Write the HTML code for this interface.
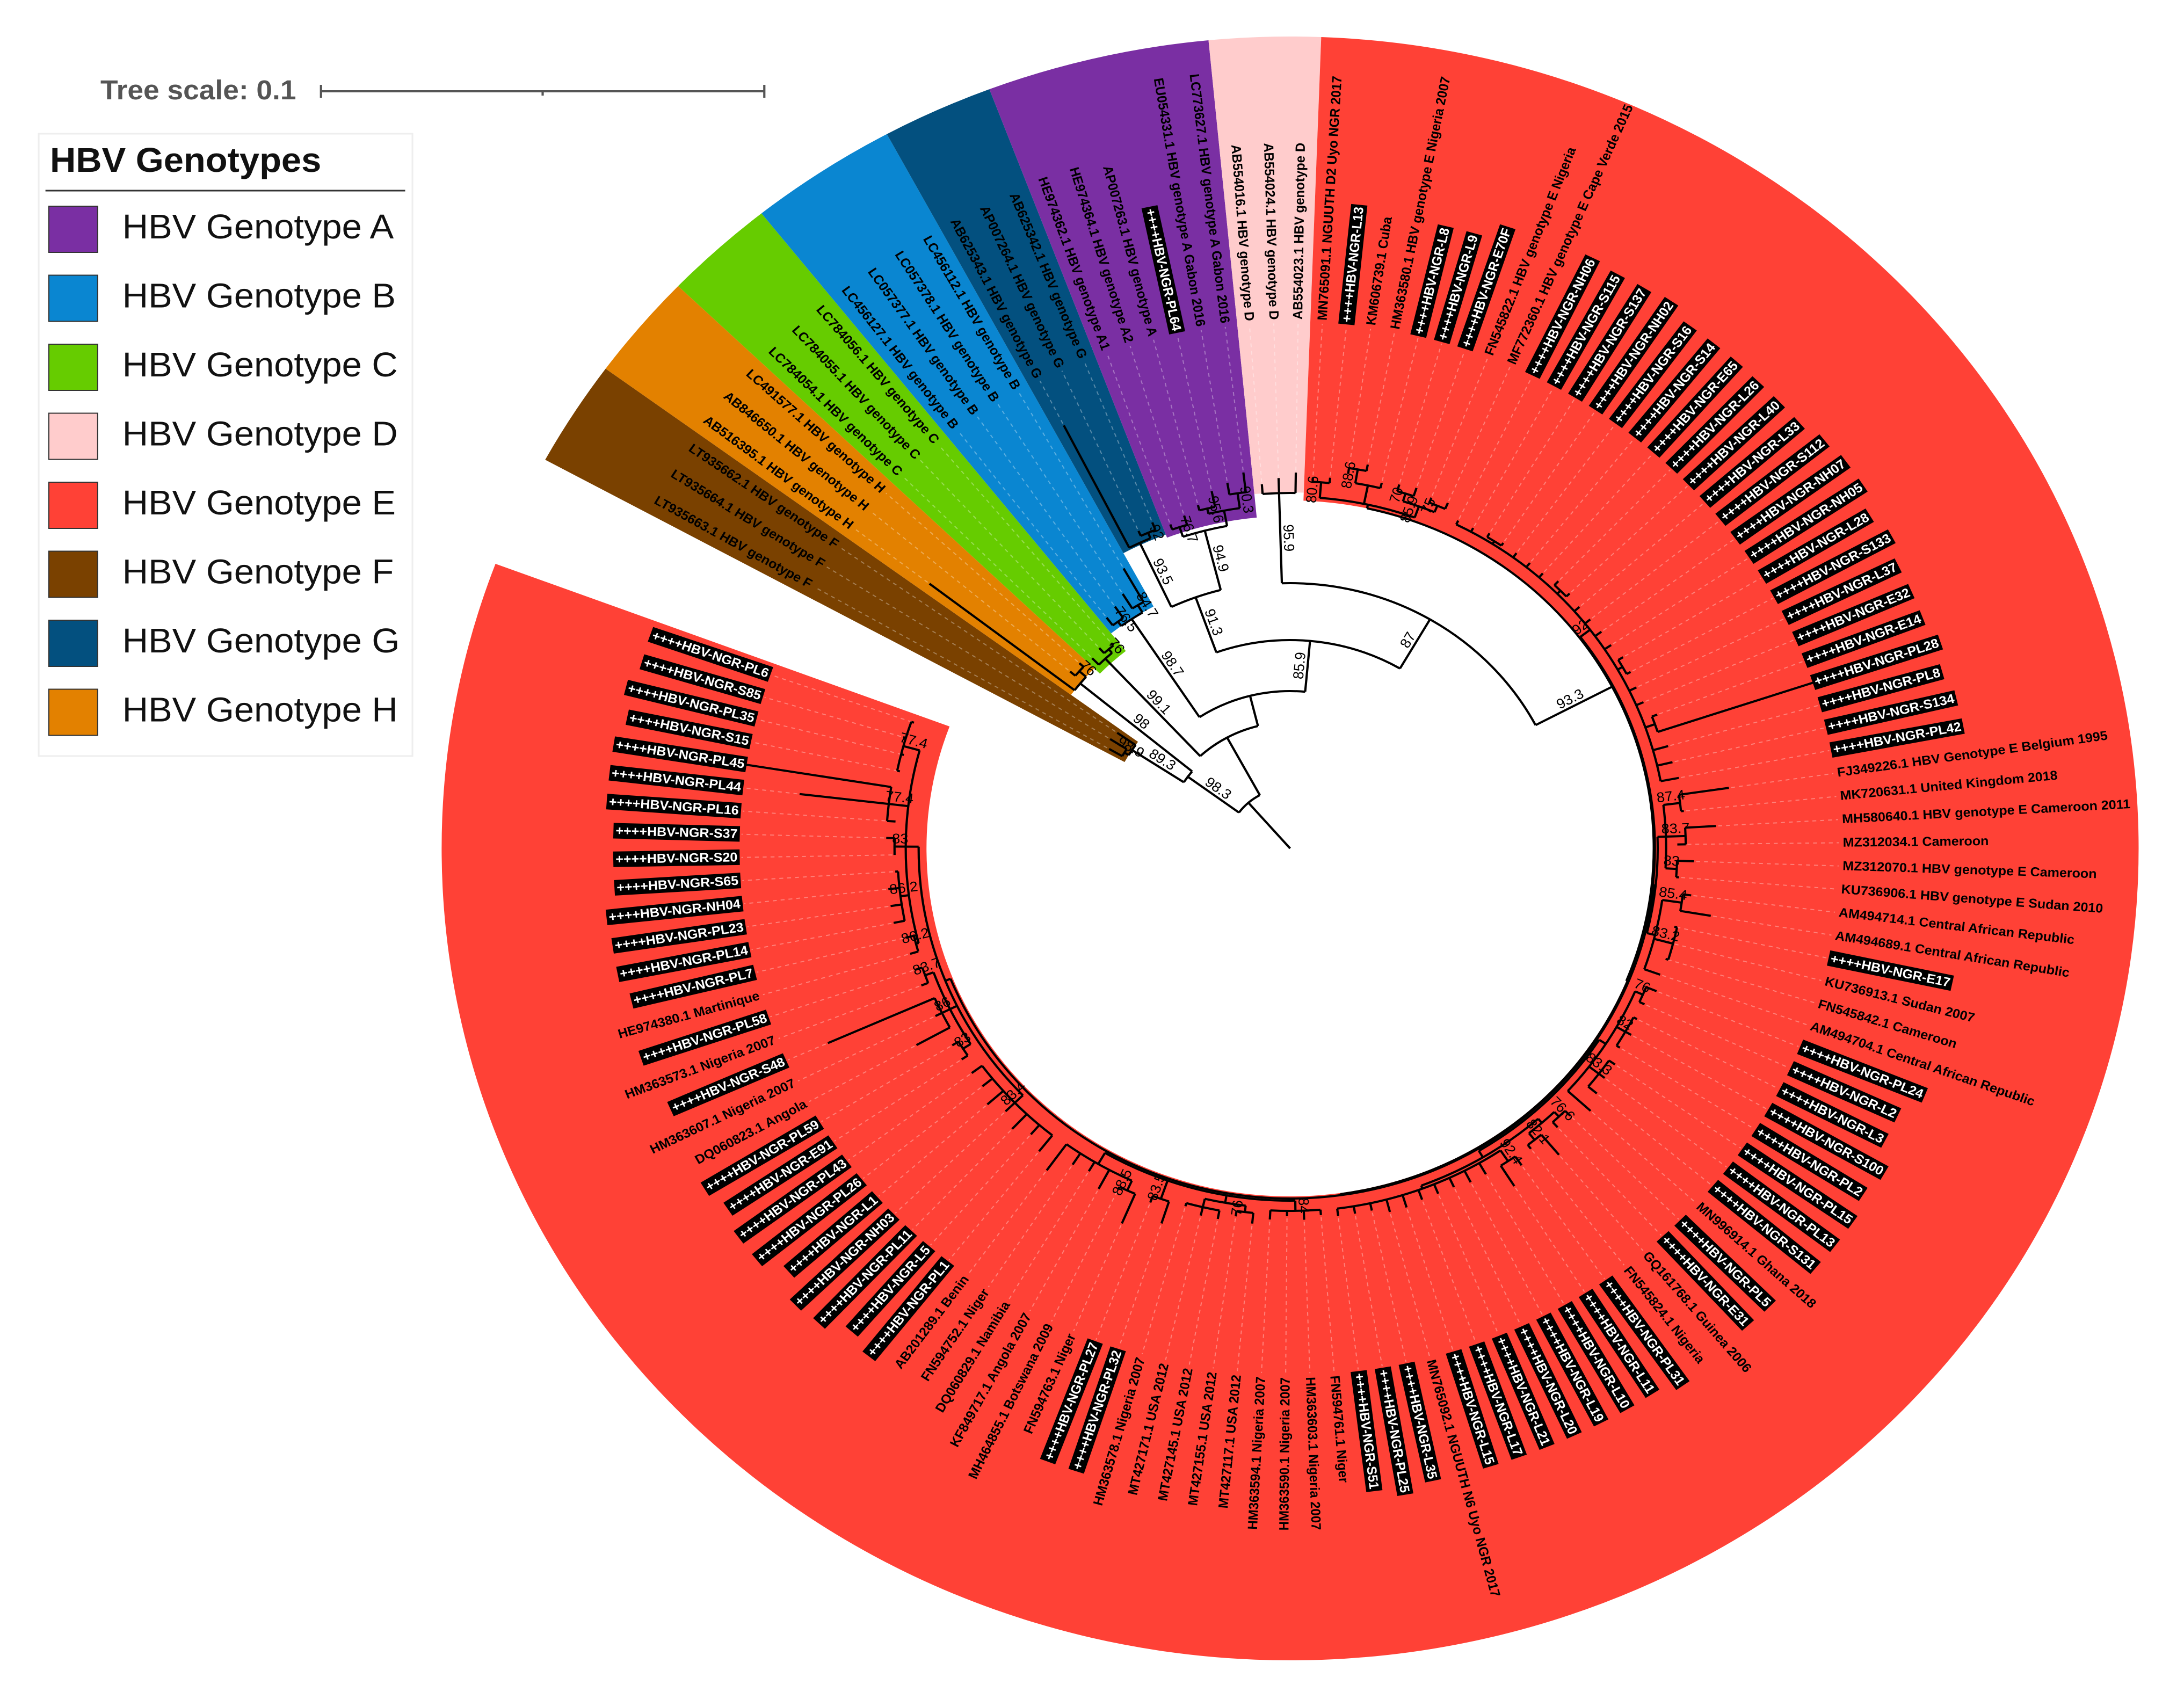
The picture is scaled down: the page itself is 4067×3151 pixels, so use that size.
<!DOCTYPE html>
<html><head><meta charset="utf-8"><title>HBV phylogenetic tree</title>
<style>
html,body{margin:0;padding:0;background:#fff;}
svg{display:block;font-family:"Liberation Sans",Arial,sans-serif;}
</style></head>
<body>
<svg id="chart" xmlns="http://www.w3.org/2000/svg" width="4067" height="3151" viewBox="0 0 4067 3151">
<rect width="4067" height="3151" fill="#fff"/>
<g id="stretch" transform="scale(1.045,1)">
  <g id="scale">
    <text x="179" y="185" font-size="51" font-weight="bold" fill="#555">Tree scale: 0.1</text>
    <line x1="572" y1="170" x2="1362" y2="170" stroke="#555" stroke-width="4"/>
    <line x1="572" y1="158" x2="572" y2="182" stroke="#555" stroke-width="4"/>
    <line x1="967" y1="170" x2="967" y2="178" stroke="#555" stroke-width="4"/>
    <line x1="1362" y1="158" x2="1362" y2="182" stroke="#555" stroke-width="4"/>
  </g>
  <g id="legend">
    <rect x="69" y="249" width="666" height="1159" fill="#fff" stroke="#eee" stroke-width="3"/>
    <text x="89" y="320" font-size="64" font-weight="bold" fill="#111">HBV Genotypes</text>
    <line x1="81" y1="355" x2="722" y2="355" stroke="#333" stroke-width="3"/>
  </g>
  <g id="tree" transform="translate(2299,1580)">
    <g id="sectors"></g>
    <g id="dashes"></g>
    <g id="branches"></g>
    <g id="labels"></g>
    <g id="boots"></g>
  </g>
</g>
</svg>
<script>
// ---- data ----
const legendNames = ["HBV Genotype A","HBV Genotype B","HBV Genotype C","HBV Genotype D","HBV Genotype E","HBV Genotype F","HBV Genotype G","HBV Genotype H"];
const legendColors = ["#7A2FA3","#0A86D1","#66CC00","#FFCCCC","#FF4136","#7A4100","#03507F","#E38100"];

const otherLeaves = [
"LT935663.1 HBV genotype F","LT935664.1 HBV genotype F","LT935662.1 HBV genotype F",
"AB516395.1 HBV genotype H","AB846650.1 HBV genotype H","LC491577.1 HBV genotype H",
"LC784054.1 HBV genotype C","LC784055.1 HBV genotype C","LC784056.1 HBV genotype C",
"LC456127.1 HBV genotype B","LC057377.1 HBV genotype B","LC057378.1 HBV genotype B","LC456112.1 HBV genotype B",
"AB625343.1 HBV genotype G","AP007264.1 HBV genotype G","AB625342.1 HBV genotype G",
"HE974362.1 HBV genotype A1","HE974364.1 HBV genotype A2","AP007263.1 HBV genotype A","++++HBV-NGR-PL64",
"EU054331.1 HBV genotype A Gabon 2016","LC773627.1 HBV genotype A Gabon 2016",
"AB554016.1 HBV genotype D","AB554024.1 HBV genotype D","AB554023.1 HBV genotype D"];

const eLeaves = [
"MN765091.1 NGUUTH D2 Uyo NGR 2017","++++HBV-NGR-L13","KM606739.1 Cuba","HM363580.1 HBV genotype E Nigeria 2007",
"++++HBV-NGR-L8","++++HBV-NGR-L9","++++HBV-NGR-E70F","FN545822.1 HBV genotype E Nigeria","MF772360.1 HBV genotype E Cape Verde 2015",
"++++HBV-NGR-NH06","++++HBV-NGR-S115","++++HBV-NGR-S137","++++HBV-NGR-NH02","++++HBV-NGR-S16","++++HBV-NGR-S14",
"++++HBV-NGR-E65","++++HBV-NGR-L26","++++HBV-NGR-L40","++++HBV-NGR-L33","++++HBV-NGR-S112","++++HBV-NGR-NH07",
"++++HBV-NGR-NH05","++++HBV-NGR-L28","++++HBV-NGR-S133","++++HBV-NGR-L37","++++HBV-NGR-E32","++++HBV-NGR-E14",
"++++HBV-NGR-PL28","++++HBV-NGR-PL8","++++HBV-NGR-S134","++++HBV-NGR-PL42",
"FJ349226.1 HBV Genotype E Belgium 1995","MK720631.1 United Kingdom 2018","MH580640.1 HBV genotype E Cameroon 2011",
"MZ312034.1 Cameroon","MZ312070.1 HBV genotype E Cameroon","KU736906.1 HBV genotype E Sudan 2010",
"AM494714.1 Central African Republic","AM494689.1 Central African Republic","++++HBV-NGR-E17","KU736913.1 Sudan 2007",
"FN545842.1 Cameroon","AM494704.1 Central African Republic","++++HBV-NGR-PL24","++++HBV-NGR-L2","++++HBV-NGR-L3",
"++++HBV-NGR-S100","++++HBV-NGR-PL2","++++HBV-NGR-PL15","++++HBV-NGR-PL13","++++HBV-NGR-S131","MN996914.1 Ghana 2018",
"++++HBV-NGR-PL5","++++HBV-NGR-E31","GQ161768.1 Guinea 2006","FN545824.1 Nigeria","++++HBV-NGR-PL31","++++HBV-NGR-L11",
"++++HBV-NGR-L10","++++HBV-NGR-L19","++++HBV-NGR-L20","++++HBV-NGR-L21","++++HBV-NGR-L17","++++HBV-NGR-L15",
"MN765092.1 NGUUTH N6 Uyo NGR 2017","++++HBV-NGR-L35","++++HBV-NGR-PL25","++++HBV-NGR-S51","FN594761.1 Niger",
"HM363603.1 Nigeria 2007","HM363590.1 Nigeria 2007","HM363594.1 Nigeria 2007","MT427117.1 USA 2012","MT427155.1 USA 2012",
"MT427145.1 USA 2012","MT427171.1 USA 2012","HM363578.1 Nigeria 2007","++++HBV-NGR-PL32","++++HBV-NGR-PL27",
"FN594763.1 Niger","MH464855.1 Botswana 2009","KF849717.1 Angola 2007","DQ060829.1 Namibia","FN594752.1 Niger",
"AB201289.1 Benin","++++HBV-NGR-PL1","++++HBV-NGR-L5","++++HBV-NGR-PL11","++++HBV-NGR-NH03","++++HBV-NGR-L1",
"++++HBV-NGR-PL26","++++HBV-NGR-PL43","++++HBV-NGR-E91","++++HBV-NGR-PL59","DQ060823.1 Angola","HM363607.1 Nigeria 2007",
"++++HBV-NGR-S48","HM363573.1 Nigeria 2007","++++HBV-NGR-PL58","HE974380.1 Martinique","++++HBV-NGR-PL7",
"++++HBV-NGR-PL14","++++HBV-NGR-PL23","++++HBV-NGR-NH04","++++HBV-NGR-S65","++++HBV-NGR-S20","++++HBV-NGR-S37",
"++++HBV-NGR-PL16","++++HBV-NGR-PL44","++++HBV-NGR-PL45","++++HBV-NGR-S15","++++HBV-NGR-PL35","++++HBV-NGR-S85","++++HBV-NGR-PL6"];

const rangeGenotype = ["F","H","C","B","G","A","D","E"];
const rangeFirst = [0,3,6,9,13,16,22,25];
const rangeLast  = [2,5,8,12,15,21,24,138];
const rangeInner = [336,484,470,512,625,619,663,648];
const rangeColor = ["#7A4100","#E38100","#66CC00","#0A86D1","#03507F","#7A2FA3","#FFCCCC","#FF4136"];

const treeF = "((n0:372,n1:380)98.9:345,n2:376)89.3:336";
const treeH = "(n3:810,(n4:512,n5:510)76:500)98:484";
const treeC = "(n6:500,(n7:505,n8:498)76:492)99.1:483";
const treeB = "((n9:540,n10:548)76.5:522,(n11:560,n12:600)84.7:528)98.7:512";
const treeG = "(n13:885,(n14:650,n15:655)92:640)93.5:629";
const treeA = "((n16:640,n17:648)76.7:630,((n18:660,n19:680)95.6:650,(n20:690,n21:705)90.3:668):640)94.9:611";
const treeD = "(n22:680,n23:690,n24:700)95.9:662";
const treeEa = "((e1:692,e2:694)80.6:684,((e3:705,e4:728)88.6:716,e5:700):690,((e6:705,e7:708)70:692,(e8:700,e9:702)75:690)85.9:677):655";
const treeEb = "(e10:680,e11:680,(e12:686,e13:684):678,e14:682,e15:682,e16:682,(e17:690,e18:688):680,e19:684,e20:684,e21:686,e22:686,(e23:692,e24:690):682,e25:686,e26:686,(e27:700,e28:984):690,e29:700,e30:700,e31:705)92:672";
const treeEc = "(((e32:790,e33:705)87.4:700,(e34:760,e35:690)83.7:705,(e36:720,e37:695)83:690):670,((e38:720,e39:760)85.4:705,(e40:700,e41:690,e42:700)83.2:705,e43:700):670):655";
const treeEd = "(((e44:705,e45:695)76:685,(e46:695,e47:700,e48:695)82:688,(e49:705,e50:705,e51:712)83.3:692,e52:725):670,(((e53:705,e54:705)76.6:692,(e55:745,e56:705)82.1:696):680,((e57:720,e58:745)92.4:700,e59:700,e60:700,e61:695,e62:695,e63:695,e64:700,e65:700,e66:690,e67:690,e68:690):676):670):656";
const treeEe = "((e69:685,e70:692,e71:685,e72:692)84:675,((e73:702,e74:692)76:682,(e75:702,e76:702,e77:692):686):670,(e78:735,e79:705)83.5:692,((e80:760,e81:705)88.5:700,e82:720,e83:700,e84:705,e85:740):680):656";
const treeEf = "((e86:720,e87:705,e88:720,e89:705,e90:720,e91:705,e92:705)83.4:682,((e93:705,e94:705)83:692,(e95:760,e96:705,e97:900)86:692,(e98:705,e99:705)83.7:692):676,((e100:705,e101:705)86.2:690,(e102:720,e103:720,e104:720,e105:705)86.2:700,(e106:705,e107:720)83:705,(e108:705,e109:880,e110:983)77.4:720,(e111:710,e112:710,e113:720,e114:710)77.4:715):685):662";

const NS="http://www.w3.org/2000/svg";
const OTHER_START=208.6, OTHER_STEP=2.54, E_START=272.1, E_STEP=2.53;
const LABEL_R=982, OUTER_R=1512;
const allLeaves = otherLeaves.concat(eLeaves);
function leafAngle(g){ return g<otherLeaves.length ? OTHER_START+OTHER_STEP*(g+0.5) : E_START+E_STEP*(g-otherLeaves.length+0.5); }
function rad(a){return a*Math.PI/180;}
function P(r,a){return [r*Math.cos(rad(a)), r*Math.sin(rad(a))];}
function mk(tag,attrs,parent){const e=document.createElementNS(NS,tag);for(const k in attrs)e.setAttribute(k,attrs[k]);parent.appendChild(e);return e;}

function parse(s){
  let i=0;
  function node(){
    const n={ch:[]};
    if(s[i]==='('){
      i++; n.ch.push(node());
      while(s[i]===','){i++; n.ch.push(node());}
      i++;
      let lab=''; while(s[i]!==':'){lab+=s[i++];}
      n.label=lab;
    } else {
      let nm=''; while(s[i]!==':'){nm+=s[i++];}
      n.leaf=nm;
    }
    i++;
    let num=''; while(i<s.length && /[0-9.]/.test(s[i])) num+=s[i++];
    n.r=parseFloat(num);
    return n;
  }
  return node();
}
const treeEY = "("+[treeEc,treeEd,treeEe,treeEf].join(",")+"):652";
const treeEX = "("+treeEb+","+treeEY+"):650";
const treeE = "("+treeEa+","+treeEX+")93.3:648";
const treeDE = "("+treeD+","+treeE+")87:494";
const treeAG = "("+treeG+","+treeA+")91.3:497";
const treeN4 = "("+treeAG+","+treeDE+")85.9:388";
const treeN3 = "("+treeB+","+treeN4+"):293";
const treeN2 = "("+treeC+","+treeN3+"):235";
const treeFH = "("+treeF+","+treeH+")98.3:226";
const treeRoot = "("+treeFH+","+treeN2+"):113";
const root = parse(treeRoot);

function leafIndex(nm){ return nm[0]==='n' ? +nm.slice(1) : otherLeaves.length-1+ +nm.slice(1); }
function layout(n){
  if(n.leaf!==undefined){ n.g=leafIndex(n.leaf); n.a=leafAngle(n.g); }
  else { n.ch.forEach(layout); n.a=(n.ch[0].a+n.ch[n.ch.length-1].a)/2; }
}
layout(root);

const legend=document.getElementById('legend');
legendNames.forEach((nm,i)=>{
  const y=384+i*128.5;
  const sw=mk('rect',{x:87,y:y,width:87,height:86,fill:legendColors[i],stroke:'#333','stroke-width':2},legend);
  
  
  const t=mk('text',{x:218,y:y+60,'font-size':64,fill:'#111'},legend);
  t.textContent=nm;
  
  
});

const sectors=document.getElementById('sectors');
rangeGenotype.forEach((gt,i)=>{
  const a0 = (rangeFirst[i]<otherLeaves.length ? leafAngle(rangeFirst[i])-OTHER_STEP/2 : leafAngle(rangeFirst[i])-E_STEP/2);
  const a1 = (rangeLast[i]<otherLeaves.length ? leafAngle(rangeLast[i])+OTHER_STEP/2 : leafAngle(rangeLast[i])+E_STEP/2);
  const ri=rangeInner[i], ro=OUTER_R, large=(a1-a0)>180?1:0;
  const p1=P(ri,a0),p2=P(ro,a0),p3=P(ro,a1),p4=P(ri,a1);
  const d=`M${p1[0]},${p1[1]}L${p2[0]},${p2[1]}A${ro},${ro} 0 ${large} 1 ${p3[0]},${p3[1]}L${p4[0]},${p4[1]}A${ri},${ri} 0 ${large} 0 ${p1[0]},${p1[1]}Z`;
  const s=mk('path',{d:d,fill:rangeColor[i]},sectors);
  
  
});

const br=document.getElementById('branches'), dashes=document.getElementById('dashes'), boots=document.getElementById('boots');
function line(r0,r1,a,parent){
  const p=P(r0,a),q=P(r1,a);
  return mk('line',{x1:p[0],y1:p[1],x2:q[0],y2:q[1]},parent);
}
function draw(n,pr){
  const l=line(pr,n.r,n.a,br);
  l.setAttribute('stroke','#000');l.setAttribute('stroke-width','4');
  
  
  if(n.leaf!==undefined){
    if(n.r<LABEL_R-6){
      const d=line(n.r+4,LABEL_R-4,n.a,dashes);
      d.setAttribute('stroke','rgba(255,255,255,0.33)');d.setAttribute('stroke-width','2');d.setAttribute('stroke-dasharray','7 7');
      
      
    }
    return;
  }
  const a0=n.ch[0].a, a1=n.ch[n.ch.length-1].a;
  const p=P(n.r,a0),q=P(n.r,a1);
  const arc=mk('path',{d:`M${p[0]},${p[1]}A${n.r},${n.r} 0 ${(a1-a0)>180?1:0} 1 ${q[0]},${q[1]}`,fill:'none',stroke:'#000','stroke-width':4},br);
  
  
  if(n.label){
    let a=((n.a%360)+360)%360, flip=a>90&&a<270;
    const m=P((pr+n.r)/2,n.a);
    const t=mk('text',{x:0,y:-6,'font-size':26,fill:'#000','text-anchor':'middle',transform:`translate(${m[0]},${m[1]}) rotate(${flip?n.a+180:n.a})`},boots);
    t.textContent=n.label;
    
    
  }
  n.ch.forEach(c=>draw(c,n.r));
}
draw(root,0);

const labels=document.getElementById('labels');
allLeaves.forEach((nm,g)=>{
  const th=leafAngle(g), a=((th%360)+360)%360, flip=a>90&&a<270;
  const grp=mk('g',{transform:`rotate(${flip?th+180:th})`},labels);
  
  
  const hl=nm.startsWith('++++');
  const t=mk('text',{x:flip?-(LABEL_R+3):(LABEL_R+3),y:0,'font-size':24,'font-weight':'bold','dominant-baseline':'central','text-anchor':flip?'end':'start',fill:hl?'#fff':'#000'},grp);
  t.textContent=nm;
  
  
  if(hl){
    const w=t.getComputedTextLength()+8;
    const r=mk('rect',{x:flip?-(LABEL_R+w-1):LABEL_R-1,y:-15,width:w,height:29,fill:'#000'},grp);
    grp.insertBefore(r,t);
    
    
  }
});
</script>
</body></html>
